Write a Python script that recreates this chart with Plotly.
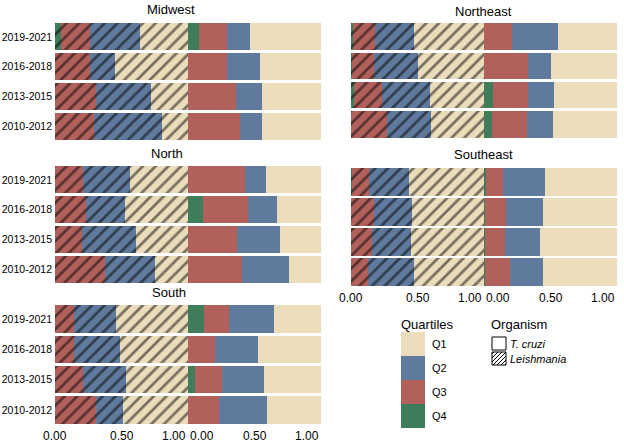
import plotly.graph_objects as go

# ---------------- data ----------------
PERIODS = ["2019-2021", "2016-2018", "2013-2015", "2010-2012"]
QUARTILES = ["Q4", "Q3", "Q2", "Q1"]          # stacking order, left to right
REGIONS = ["Midwest", "Northeast", "North", "Southeast", "South"]
ORGANISMS = ["Leishmania", "T. cruzi"]
XTICK_VALS = [0, 0.5, 1]
XTICK_TEXT = ["0.00", "0.50", "1.00"]

# values per period (same order as PERIODS)
MW_LEI_Q4 = [0.045, 0, 0, 0]
MW_LEI_Q3 = [0.22, 0.26, 0.31, 0.29]
MW_LEI_Q2 = [0.375, 0.19, 0.41, 0.515]
MW_LEI_Q1 = [0.36, 0.55, 0.28, 0.195]
MW_TC_Q4 = [0.08, 0, 0, 0]
MW_TC_Q3 = [0.21, 0.29, 0.36, 0.39]
MW_TC_Q2 = [0.175, 0.25, 0.195, 0.165]
MW_TC_Q1 = [0.535, 0.46, 0.445, 0.445]

NE_LEI_Q4 = [0.015, 0.01, 0.025, 0]
NE_LEI_Q3 = [0.165, 0.16, 0.21, 0.27]
NE_LEI_Q2 = [0.29, 0.335, 0.36, 0.335]
NE_LEI_Q1 = [0.53, 0.495, 0.405, 0.395]
NE_TC_Q4 = [0, 0, 0.07, 0.06]
NE_TC_Q3 = [0.21, 0.33, 0.26, 0.265]
NE_TC_Q2 = [0.345, 0.17, 0.2, 0.195]
NE_TC_Q1 = [0.445, 0.50, 0.47, 0.48]

N_LEI_Q4 = [0, 0, 0, 0]
N_LEI_Q3 = [0.21, 0.23, 0.2, 0.375]
N_LEI_Q2 = [0.355, 0.295, 0.41, 0.38]
N_LEI_Q1 = [0.435, 0.475, 0.39, 0.245]
N_TC_Q4 = [0, 0.11, 0, 0]
N_TC_Q3 = [0.425, 0.34, 0.37, 0.405]
N_TC_Q2 = [0.16, 0.22, 0.32, 0.355]
N_TC_Q1 = [0.415, 0.33, 0.31, 0.24]

SE_LEI_Q4 = [0.01, 0, 0, 0]
SE_LEI_Q3 = [0.125, 0.17, 0.16, 0.13]
SE_LEI_Q2 = [0.30, 0.285, 0.29, 0.34]
SE_LEI_Q1 = [0.565, 0.545, 0.55, 0.53]
SE_TC_Q4 = [0.015, 0.01, 0.01, 0.01]
SE_TC_Q3 = [0.13, 0.155, 0.15, 0.185]
SE_TC_Q2 = [0.31, 0.28, 0.26, 0.25]
SE_TC_Q1 = [0.545, 0.555, 0.58, 0.555]

S_LEI_Q4 = [0, 0, 0, 0]
S_LEI_Q3 = [0.14, 0.14, 0.21, 0.31]
S_LEI_Q2 = [0.315, 0.35, 0.325, 0.2]
S_LEI_Q1 = [0.545, 0.51, 0.465, 0.49]
S_TC_Q4 = [0.12, 0, 0.05, 0]
S_TC_Q3 = [0.185, 0.2, 0.205, 0.23]
S_TC_Q2 = [0.34, 0.325, 0.32, 0.365]
S_TC_Q1 = [0.355, 0.475, 0.425, 0.405]

DATA = {
    ("Midwest", "Leishmania"): [MW_LEI_Q4, MW_LEI_Q3, MW_LEI_Q2, MW_LEI_Q1],
    ("Midwest", "T. cruzi"): [MW_TC_Q4, MW_TC_Q3, MW_TC_Q2, MW_TC_Q1],
    ("Northeast", "Leishmania"): [NE_LEI_Q4, NE_LEI_Q3, NE_LEI_Q2, NE_LEI_Q1],
    ("Northeast", "T. cruzi"): [NE_TC_Q4, NE_TC_Q3, NE_TC_Q2, NE_TC_Q1],
    ("North", "Leishmania"): [N_LEI_Q4, N_LEI_Q3, N_LEI_Q2, N_LEI_Q1],
    ("North", "T. cruzi"): [N_TC_Q4, N_TC_Q3, N_TC_Q2, N_TC_Q1],
    ("Southeast", "Leishmania"): [SE_LEI_Q4, SE_LEI_Q3, SE_LEI_Q2, SE_LEI_Q1],
    ("Southeast", "T. cruzi"): [SE_TC_Q4, SE_TC_Q3, SE_TC_Q2, SE_TC_Q1],
    ("South", "Leishmania"): [S_LEI_Q4, S_LEI_Q3, S_LEI_Q2, S_LEI_Q1],
    ("South", "T. cruzi"): [S_TC_Q4, S_TC_Q3, S_TC_Q2, S_TC_Q1],
}

# ---------------- styling / layout ----------------
COLORS = {"Q1": "#EBDDBB", "Q2": "#5F7A9C", "Q3": "#B1605B", "Q4": "#3F7C5A"}
FONT = "Liberation Sans, Arial, sans-serif"

W, H = 624, 446
def fx(px):
    return px / W
def fy(py):
    return 1 - py / H

# panel pixel boxes: x0, x1, y0(top), y1(bottom), column, show x tick labels
PANELS = {
    "Midwest":   (55, 321, 22, 141, 0, False),
    "Northeast": (351, 617, 22, 139, 1, False),
    "North":     (55, 321, 165, 284, 0, False),
    "Southeast": (351, 617, 167, 287, 1, True),
    "South":     (55, 321, 304, 425, 0, True),
}
TITLE_POS = {
    "Midwest": (171, 10), "Northeast": (483, 12), "North": (167, 153),
    "Southeast": (483, 154), "South": (169, 292),
}

fig = go.Figure()
layout = {}
annotations = []
n = 0
for region in REGIONS:
    x0, x1, y0, y1, col, showx = PANELS[region]
    mid = (x0 + x1) / 2
    for k, org in enumerate(ORGANISMS):
        n += 1
        xs = "" if n == 1 else str(n)
        dom_x = [fx(x0), fx(mid)] if k == 0 else [fx(mid), fx(x1)]
        layout["xaxis" + xs] = dict(
            domain=dom_x, range=[0, 1], anchor="y" + xs, automargin=False,
            showgrid=False, zeroline=False, showline=False, ticks="",
            showticklabels=False, fixedrange=True,
        )
        layout["yaxis" + xs] = dict(
            domain=[fy(y1), fy(y0)], anchor="x" + xs, type="category",
            automargin=False,
            categoryorder="array", categoryarray=PERIODS[::-1],
            range=[-0.5, 3.5], showgrid=False, zeroline=False, showline=False,
            ticks="", showticklabels=(k == 0 and col == 0), ticklabelstandoff=2,
            tickfont=dict(family=FONT, size=10.5, color="black"),
            fixedrange=True,
        )
        if showx:
            anchors = ["center", "center", "right"] if k == 0 else ["left", "center", "right"]
            for v, t, a in zip(XTICK_VALS, XTICK_TEXT, anchors):
                annotations.append(dict(
                    text=t, x=v, xref="x" + xs, y=fy(y1 + 11), yref="paper",
                    showarrow=False, xanchor=a, yanchor="middle",
                    font=dict(family=FONT, size=12, color="black"),
                ))
        for q, vals in zip(QUARTILES, DATA[(region, org)]):
            marker = dict(color=COLORS[q], line=dict(width=0))
            if org == "Leishmania":
                marker["pattern"] = dict(shape="/", fgcolor="black", size=9,
                                         solidity=0.3)
            fig.add_trace(go.Bar(
                y=PERIODS, x=vals, orientation="h", name=q, marker=marker,
                xaxis="x" + xs, yaxis="y" + xs, showlegend=False,
                hovertemplate=f"{region} – {org}<br>%{{y}}<br>{q}: %{{x:.2f}}<extra></extra>",
            ))

for region in REGIONS:
    tx, ty = TITLE_POS[region]
    annotations.append(dict(
        text=region, x=fx(tx), y=fy(ty), xref="paper", yref="paper",
        showarrow=False, xanchor="center", yanchor="middle",
        font=dict(family=FONT, size=13, color="black"),
    ))

shapes = []
# Quartiles legend
annotations.append(dict(text="Quartiles", x=fx(399), y=fy(324), xref="paper", yref="paper",
                        showarrow=False, xanchor="left", yanchor="middle",
                        font=dict(family=FONT, size=13, color="black")))
for i, q in enumerate(["Q1", "Q2", "Q3", "Q4"]):
    top = 332 + 24 * i
    shapes.append(dict(type="rect", xref="paper", yref="paper",
                       x0=fx(401), x1=fx(425), y0=fy(top + 24), y1=fy(top),
                       fillcolor=COLORS[q], line=dict(width=0)))
    annotations.append(dict(text=q, x=fx(430), y=fy(top + 12), xref="paper", yref="paper",
                            showarrow=False, xanchor="left", yanchor="middle",
                            font=dict(family=FONT, size=11, color="black")))

# Organism legend
annotations.append(dict(text="Organism", x=fx(489), y=fy(324), xref="paper", yref="paper",
                        showarrow=False, xanchor="left", yanchor="middle",
                        font=dict(family=FONT, size=13, color="black")))
bx0, bx1 = 492, 506
boxes = [(337, 350, False, "T. cruzi"), (352, 365, True, "Leishmania")]
for top, bot, hatch, label in boxes:
    shapes.append(dict(type="rect", xref="paper", yref="paper",
                       x0=fx(bx0), x1=fx(bx1), y0=fy(bot), y1=fy(top),
                       fillcolor="white", line=dict(color="black", width=1)))
    if hatch:
        step = 4
        hgt = bot - top
        for off in range(-hgt + 2, bx1 - bx0, step):
            sx, sy = bx0 + off, bot
            ex, ey = bx0 + off + hgt, top
            if sx < bx0:
                sy = bot - (bx0 - sx); sx = bx0
            if ex > bx1:
                ey = top + (ex - bx1); ex = bx1
            if ex - sx > 0.5:
                shapes.append(dict(type="line", xref="paper", yref="paper",
                                   x0=fx(sx), y0=fy(sy), x1=fx(ex), y1=fy(ey),
                                   line=dict(color="black", width=1)))
    annotations.append(dict(text=f"<i>{label}</i>", x=fx(508), y=fy((top + bot) / 2),
                            xref="paper", yref="paper", showarrow=False,
                            xanchor="left", yanchor="middle",
                            font=dict(family=FONT, size=11, color="black")))

fig.update_layout(
    **layout,
    barmode="stack", bargap=0.09,
    width=W, height=H, autosize=False,
    margin=dict(l=0, r=0, t=0, b=0),
    paper_bgcolor="white", plot_bgcolor="white",
    annotations=annotations, shapes=shapes,
    showlegend=False,
)

fig.write_html("out.html")
